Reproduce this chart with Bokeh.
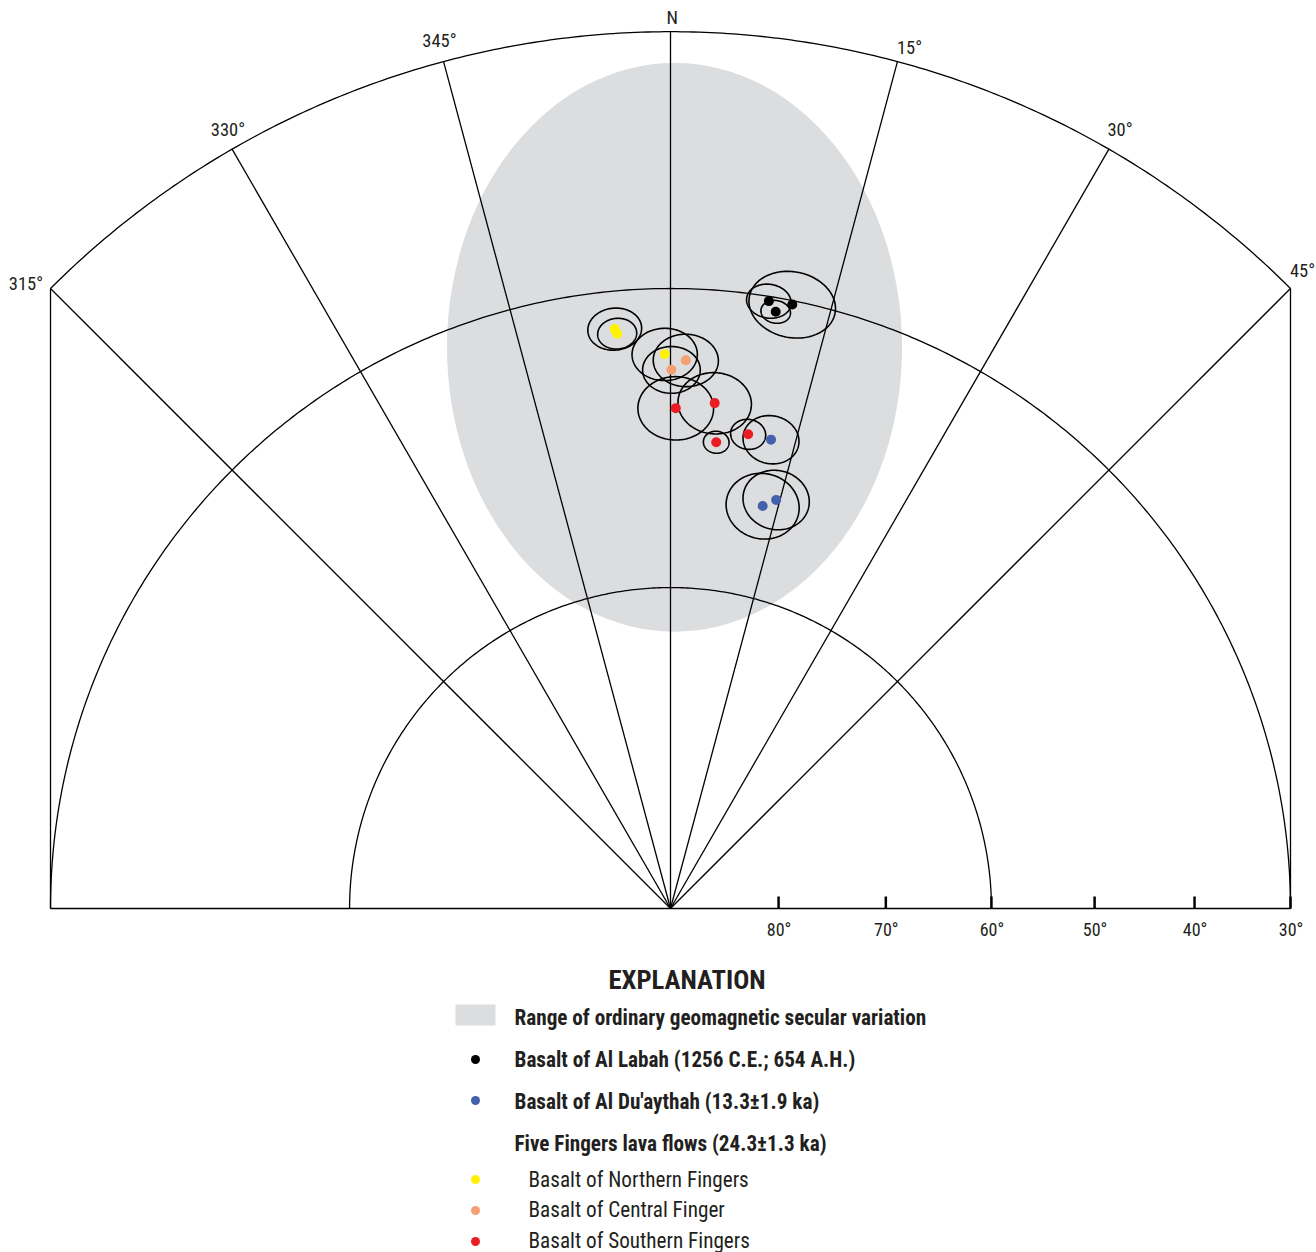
import numpy as np
from bokeh.plotting import figure
from bokeh.models import Range1d
from bokeh.core.properties import value
from bokeh.embed import file_html
from bokeh.resources import INLINE

# ---------------------------------------------------------------------------
# Site-mean paleomagnetic directions: declination, inclination, alpha95 (deg)
# ---------------------------------------------------------------------------
labah_dec = [9.2, 11.4, 10.0]
labah_inc = [30.5, 30.4, 31.5]
labah_a95 = [1.8, 3.5, 1.2]

duaythah_dec = [12.1, 12.9, 14.5]
duaythah_inc = [44.5, 51.1, 50.2]
duaythah_a95 = [2.4, 3.2, 2.9]

northern_dec = [354.5, 354.7, 359.4]
northern_inc = [34.0, 34.5, 36.9]
northern_a95 = [2.2, 1.6, 2.7]

central_dec = [1.6, 0.1]
central_inc = [37.5, 38.5]
central_a95 = [2.7, 2.4]

southern_dec = [0.6, 5.0, 5.6, 9.3]
southern_inc = [42.4, 41.7, 45.6, 44.4]
southern_a95 = [3.2, 3.1, 1.1, 1.5]

# Range of ordinary secular variation (ellipse in the projection plane)
sv_center = (0.0046, 0.640)
sv_size = (0.519, 0.649)

# Graticule
spoke_decs = [315, 330, 345, 0, 15, 30, 45]
spoke_labels = ["315°", "330°", "345°", "N", "15°", "30°", "45°"]
scale_incs = [80, 70, 60, 50, 40, 30]
scale_labels = ["80°", "70°", "60°", "50°", "40°", "30°"]

# Explanation
legend_titles = ["Basalt of Al Labah (1256 C.E.; 654 A.H.)",
                 "Basalt of Al Du'aythah (13.3±1.9 ka)"]
group_title = "Five Fingers lava flows (24.3±1.3 ka)"
legend_subs = ["Basalt of Northern Fingers", "Basalt of Central Finger",
               "Basalt of Southern Fingers"]
sv_label = "Range of ordinary geomagnetic secular variation"

BLACK = "#000000"
BLUE = "#4360AC"
YELLOW = "#FFF200"
ORANGE = "#F5A073"
RED = "#EC1C24"
GREY = "#DCDDDF"
INK = "#231F20"
FONT = "'Liberation Sans Narrow', 'Roboto Condensed', 'DejaVu Sans Condensed', sans-serif"

W, H = 1316, 1252
K = 876.8           # page pixels per unit of projected radius
CX, CY = 670, 908   # page position of the projection centre


def ux(px):
    return (px - CX) / K


def uy(py):
    return (CY - py) / K


def project(dec, inc):
    """Lambert equal-area projection of (dec, inc) onto the lower hemisphere."""
    dec = np.radians(np.asarray(dec, dtype=float))
    inc = np.asarray(inc, dtype=float)
    r = np.sqrt(2.0) * np.sin(np.radians(90.0 - inc) / 2.0)
    return r * np.sin(dec), r * np.cos(dec)


def small_circle(dec, inc, a95, n=181):
    d, i, a = np.radians([dec, inc, a95])
    m = np.array([np.cos(i) * np.cos(d), np.cos(i) * np.sin(d), np.sin(i)])
    u = np.array([-np.sin(i) * np.cos(d), -np.sin(i) * np.sin(d), np.cos(i)])
    v = np.array([-np.sin(d), np.cos(d), 0.0])
    t = np.linspace(0, 2 * np.pi, n)
    pts = (np.cos(a) * m[:, None]
           + np.sin(a) * (np.cos(t) * u[:, None] + np.sin(t) * v[:, None]))
    inc_c = np.degrees(np.arcsin(np.clip(pts[2], -1, 1)))
    dec_c = np.degrees(np.arctan2(pts[1], pts[0]))
    return project(dec_c, inc_c)


p = figure(width=W, height=H,
           x_range=Range1d(ux(0), ux(W)), y_range=Range1d(uy(H), uy(0)),
           output_backend="svg", toolbar_location=None, min_border=0,
           x_axis_type=None, y_axis_type=None)
p.grid.visible = False
p.outline_line_color = None
p.background_fill_color = "white"
p.border_fill_color = "white"

# secular variation field
p.ellipse(x=[sv_center[0]], y=[sv_center[1]], width=[sv_size[0]], height=[sv_size[1]],
          fill_color=GREY, line_color=None)

# ---- graticule ----
LW = 1.3
r0 = float(np.hypot(*project(0, 0)))
r30 = float(np.hypot(*project(0, 30)))
r60 = float(np.hypot(*project(0, 60)))

xs, ys = [], []
for r in (r30, r60):
    a = np.radians(np.linspace(-90, 90, 361))
    xs.append(r * np.sin(a))
    ys.append(r * np.cos(a))
a = np.radians(np.linspace(-45, 45, 241))
xs.append(r0 * np.sin(a))
ys.append(r0 * np.cos(a))
for d in spoke_decs:
    ex, ey = project(d, 0)
    xs.append([0.0, float(ex)])
    ys.append([0.0, float(ey)])
# base line and side edges
xs.append([-r30, r30]); ys.append([0.0, 0.0])
lx, ly = project(315, 0)
rx, ry = project(45, 0)
xs.append([float(lx), float(lx)]); ys.append([0.0, float(ly)])
xs.append([float(rx), float(rx)]); ys.append([0.0, float(ry)])
p.multi_line(xs=[list(x) for x in xs], ys=[list(y) for y in ys],
             line_color=BLACK, line_width=LW)

# inclination scale along the east half of the base line
tx, _ = project(np.full(len(scale_incs), 90.0), scale_incs)
p.segment(x0=tx, y0=np.zeros(len(tx)), x1=tx, y1=np.full(len(tx), 12 / K),
          line_color=BLACK, line_width=2.5)
p.text(x=tx + 0.5 / K, y=np.full(len(tx), uy(928.5)), text=scale_labels,
       text_font=value(FONT), text_font_size="18px", text_color=INK,
       text_align="center", text_baseline="middle")

# declination labels (offsets in page pixels from each spoke end)
label_offsets = [(-24.5, -5), (-4.1, -18.7), (-4.1, -20.1), (1.7, -14.2),
                 (12.1, -13.1), (11.1, -18.7), (12, -17.3)]
ex, ey = project(spoke_decs, np.zeros(len(spoke_decs)))
lxs = [float(x) + o[0] / K for x, o in zip(ex, label_offsets)]
lys = [float(y) - o[1] / K for y, o in zip(ey, label_offsets)]
p.text(x=lxs, y=lys, text=spoke_labels, text_font=value(FONT),
       text_font_size="18.5px", text_color=INK,
       text_align="center", text_baseline="middle")

# ---- confidence circles and mean directions ----
groups = [
    (labah_dec, labah_inc, labah_a95, BLACK),
    (duaythah_dec, duaythah_inc, duaythah_a95, BLUE),
    (northern_dec, northern_inc, northern_a95, YELLOW),
    (central_dec, central_inc, central_a95, ORANGE),
    (southern_dec, southern_inc, southern_a95, RED),
]
cxs, cys = [], []
for decs, incs, a95s, _ in groups:
    for d, i, a in zip(decs, incs, a95s):
        cx, cy = small_circle(d, i, a)
        cxs.append(list(cx))
        cys.append(list(cy))
p.multi_line(xs=cxs, ys=cys, line_color=BLACK, line_width=1.6)

for decs, incs, _, color in groups:
    px_, py_ = project(decs, incs)
    p.scatter(x=px_, y=py_, size=10, fill_color=color, line_color=None)

# ---- explanation ----
p.text(x=[ux(686.5)], y=[uy(979)], text=["EXPLANATION"], text_font=value(FONT),
       text_font_size="26.7px", text_font_style="bold", text_color=INK,
       text_align="center", text_baseline="middle")
p.quad(left=[ux(455)], right=[ux(495)], top=[uy(1004)], bottom=[uy(1025)],
       fill_color=GREY, line_color=None)
p.text(x=[ux(514)] * 4, y=[uy(1017), uy(1059), uy(1101), uy(1143)],
       text=[sv_label] + legend_titles + [group_title], text_font=value(FONT),
       text_font_size="21.2px", text_font_style="bold", text_color=INK,
       text_align="left", text_baseline="middle")
p.scatter(x=[ux(475)] * 2, y=[uy(1059), uy(1100)], size=9,
          fill_color=[BLACK, BLUE], line_color=None)
p.text(x=[ux(528)] * 3, y=[uy(1178.5), uy(1209), uy(1239.5)], text=legend_subs,
       text_font=value(FONT), text_font_size="21.2px", text_color=INK,
       text_align="left", text_baseline="middle")
p.scatter(x=[ux(475)] * 3, y=[uy(1179), uy(1210), uy(1241)], size=9,
          fill_color=[YELLOW, ORANGE, RED], line_color=None)

open("out.html", "w").write(file_html(p, INLINE))
